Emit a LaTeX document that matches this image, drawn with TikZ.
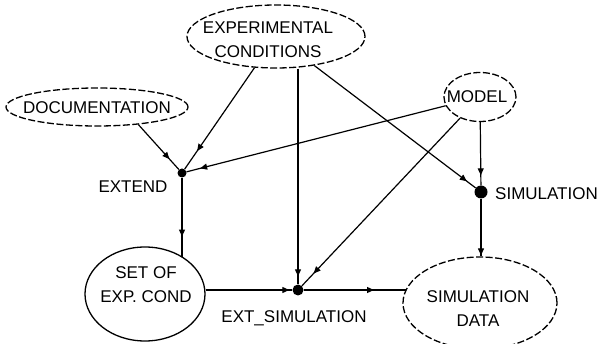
\documentclass[tikz,border=0pt]{standalone}
\usepackage{fontspec}
\setmainfont{Liberation Sans}
\usetikzlibrary{shapes.geometric,arrows.meta,decorations.markings}
\begin{document}
\begin{tikzpicture}[x=1pt,y=-1pt,
  every node/.style={font=\fontsize{17}{24}\selectfont},
  oval/.style={draw, ellipse, line width=1.3pt, dash pattern=on 7pt off 2.5pt, inner sep=0pt},
  solidoval/.style={draw, ellipse, line width=1.3pt, inner sep=0pt},
  txt/.style={align=center, inner sep=0pt},
  dot/.style={circle, fill=black, inner sep=0pt, minimum size=#1},
  conn/.style={line width=1.2pt},
  tipat/.style={postaction={decorate}, decoration={markings,
     mark=at position #1 with {\arrow{Triangle[length=7pt,width=6pt]}}}}]
\useasboundingbox (0,0) rectangle (602,344);
% ovals
\node[oval, minimum width=178pt, minimum height=63pt] (exp) at (276,36.5) {};
\node[txt] (expt) at (268,40) {EXPERIMENTAL\\CONDITIONS};
\node[oval, minimum width=182pt, minimum height=38pt] (doc) at (97,107) {};
\node[txt] (doct) at (97,108) {DOCUMENTATION};
\node[oval, minimum width=72pt, minimum height=49pt] (model) at (480,97) {};
\node[txt] (modelt) at (477,97) {MODEL};
\node[solidoval, minimum width=120pt, minimum height=94pt] (setof) at (145,294) {};
\node[txt] (setoft) at (146,285) {SET OF\\EXP. COND};
\node[oval, minimum width=154pt, minimum height=92pt] (simdata) at (480,303) {};
\node[txt] (simdatat) at (478,309) {SIMULATION\\DATA};
% dots
\node[dot=9pt] (extend) at (182,173) {};
\node[dot=13pt] (sim) at (481,192) {};
\node[dot=11pt] (extsim) at (298,290) {};
% labels
\node[txt] (extendl) at (133,187) {EXTEND};
\node[txt, anchor=west] (siml) at (495,194) {SIMULATION};
\node[txt] (extsiml) at (294,318) {EXT\_SIMULATION};
% connectors
\draw[conn, tipat=-14pt] (doc.-23) -- (extend);
\draw[conn, tipat=-22pt] (exp) -- (extend);
\draw[conn, tipat=-14pt] (model) -- (extend);
\draw[conn, tipat=-20pt] (extend) -- (extend |- setof.45);
\draw[conn, tipat=-8pt] (exp.south -| extsim) -- (extsim);
\draw[conn, tipat=-17pt] (model) -- (extsim);
\draw[conn, tipat=-11pt] (exp) -- (sim);
\draw[conn, tipat=-10pt] (model) -- (sim);
\draw[conn, tipat=-1pt] (sim) -- (sim |- simdata.north);
\coordinate (sdw) at (406,290);
\draw[conn, tipat=-3pt] (setof.east |- extsim) -- (extsim);
\draw[conn, tipat=-32pt] (extsim) -- (sdw);
\end{tikzpicture}
\end{document}
